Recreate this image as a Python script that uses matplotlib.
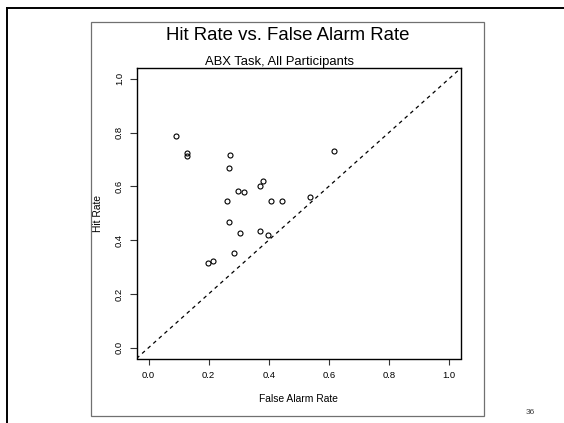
import matplotlib
matplotlib.use('Agg')
import matplotlib.pyplot as plt
from matplotlib.patches import Rectangle
from matplotlib.lines import Line2D

plt.rcParams['font.family'] = ['Liberation Sans', 'DejaVu Sans']

# Data (false alarm rate vs hit rate per participant)
false_alarm = [0.092, 0.128, 0.128, 0.271, 0.268, 0.262, 0.297, 0.317,
               0.371, 0.380, 0.407, 0.268, 0.306, 0.371, 0.398, 0.283,
               0.199, 0.214, 0.617, 0.445, 0.538]
hit_rate = [0.788, 0.723, 0.711, 0.715, 0.668, 0.546, 0.583, 0.578,
            0.603, 0.620, 0.546, 0.468, 0.426, 0.434, 0.419, 0.351,
            0.316, 0.324, 0.730, 0.546, 0.562]
ticks = [0.0, 0.2, 0.4, 0.6, 0.8, 1.0]
tick_labels = ['0.0', '0.2', '0.4', '0.6', '0.8', '1.0']

W, H = 564, 423
fig = plt.figure(figsize=(W / 100, H / 100), dpi=100)

def fx(px):
	return px / W

def fy(py):
	return 1 - py / H

# Slide frame (top and left rule)
fig.add_artist(Line2D([fx(6.5), fx(564)], [fy(8), fy(8)], color='black', lw=1.4))
fig.add_artist(Line2D([fx(6.5), fx(6.5)], [fy(8), fy(423)], color='black', lw=1.4))

# Border of the pasted R plot
fig.add_artist(Rectangle((fx(90.7), fy(416)), fx(484.3) - fx(90.7), fy(22) - fy(416),
	fill=False, edgecolor='#707070', lw=0.9))

# Plot region
left, right, top, bottom = 136.5, 461, 68, 358.5
ax = fig.add_axes([fx(left), fy(bottom), fx(right) - fx(left), fy(top) - fy(bottom)])

ax.plot(false_alarm, hit_rate, 'o', mfc='none', mec='black', ms=3.6, mew=0.8)
ax.plot([-0.04, 1.04], [-0.04, 1.04], color='black', lw=0.9, dashes=(3, 3))

ax.set_xlim(-0.04, 1.04)
ax.set_ylim(-0.04, 1.04)
ax.set_xticks(ticks)
ax.set_xticklabels(tick_labels)
ax.set_yticks(ticks)
ax.set_yticklabels(tick_labels, rotation=90, va='center')
ax.tick_params(axis='x', length=4, width=0.8, color='#333333', labelsize=6.8, pad=5)
ax.tick_params(axis='y', length=5, width=0.8, color='#333333', labelsize=6.8, pad=4)
for sp in ax.spines.values():
	sp.set_linewidth(1.0)

ax.set_xlabel('False Alarm Rate', fontsize=7.4, va='center')
ax.xaxis.set_label_coords(0.498, (bottom - 398.7) / (bottom - top))
ax.set_ylabel('Hit Rate', fontsize=7.4, va='center')
ax.yaxis.set_label_coords((98.3 - left) / (right - left), 0.5)

fig.text(fx(287.5), fy(35.5), 'Hit Rate vs. False Alarm Rate', fontsize=13.4,
	ha='center', va='center')
fig.text(fx(279.5), fy(61.5), 'ABX Task, All Participants', fontsize=9.4,
	ha='center', va='center')
fig.text(fx(530.7), fy(412), '36', fontsize=6, color='#404040', ha='center', va='center')

plt.savefig('out.png', dpi=100)
plt.close()
